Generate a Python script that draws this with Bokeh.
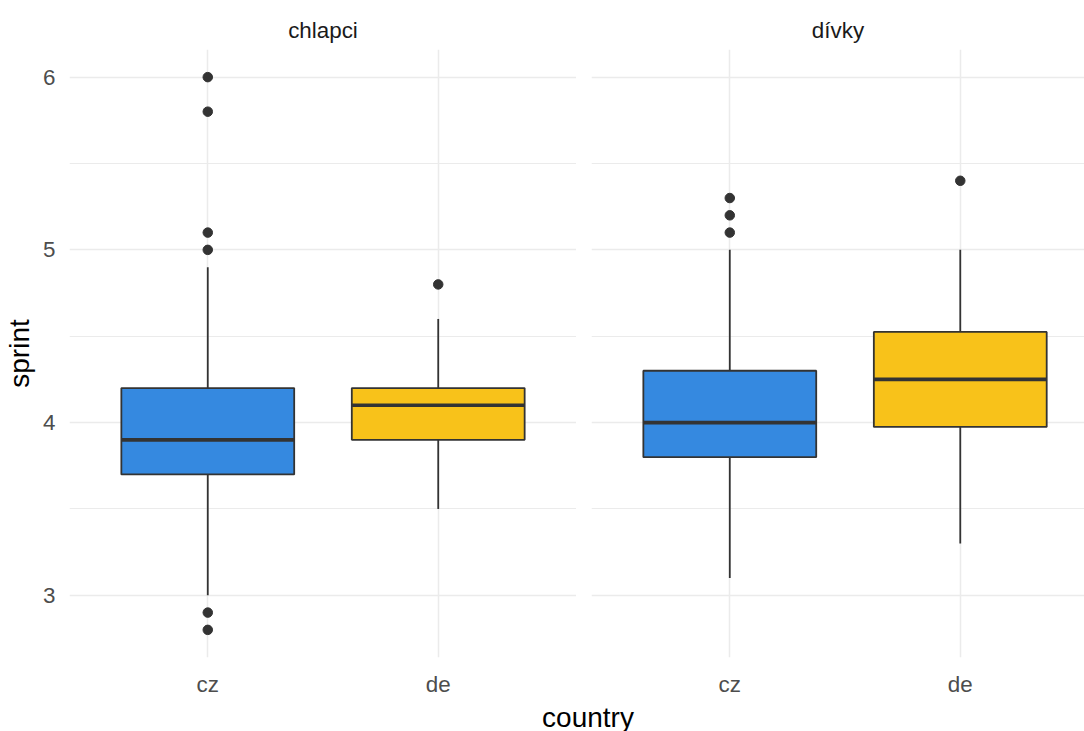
from bokeh.plotting import figure
from bokeh.models import Range1d, FixedTicker, ColumnDataSource, Div
from bokeh.layouts import row, column
from bokeh.embed import file_html
from bokeh.resources import INLINE

# ---- data ----
groups = ["chlapci", "dívky"]
countries = ["cz", "de"]
box_group = ["chlapci", "chlapci", "dívky", "dívky"]
box_country = ["cz", "de", "cz", "de"]
lower = [3.0, 3.5, 3.1, 3.3]
q1 = [3.7, 3.9, 3.8, 3.975]
median = [3.9, 4.1, 4.0, 4.25]
q3 = [4.2, 4.2, 4.3, 4.525]
upper = [4.9, 4.6, 5.0, 5.0]
out_group = ["chlapci"] * 6 + ["chlapci"] + ["dívky"] * 3 + ["dívky"]
out_country = ["cz"] * 6 + ["de"] + ["cz"] * 3 + ["de"]
out_value = [6.0, 5.8, 5.1, 5.0, 2.9, 2.8, 4.8, 5.3, 5.2, 5.1, 5.4]
y_ticks = [3, 4, 5, 6]
y_minor = [3.5, 4.5, 5.5]
fill_colors = {"cz": "#3589E0", "de": "#F8C21A"}

FONT = "Liberation Sans"
BOX_W = 0.75
H = 699


def make_panel(group, width, x_end, border_left, show_y):
    p = figure(width=width, height=H,
               x_range=Range1d(0.4, x_end), y_range=Range1d(2.64, 6.16),
               output_backend="svg", toolbar_location=None,
               min_border_left=border_left, min_border_right=0,
               min_border_top=49, min_border_bottom=39)
    p.outline_line_color = None
    p.title.text = group
    p.title.align = "center"
    p.title.text_font = FONT
    p.title.text_font_size = "22.4px"
    p.title.text_font_style = "normal"
    p.title.text_color = "#1A1A1A"
    p.title.standoff = 13

    xt = [countries.index(c) + 1 for c in countries]
    p.xaxis.ticker = FixedTicker(ticks=xt)
    p.xaxis.major_label_overrides = {t: c for t, c in zip(xt, countries)}
    p.yaxis.ticker = FixedTicker(ticks=y_ticks, minor_ticks=y_minor)
    for ax in (p.xaxis, p.yaxis):
        ax.axis_line_color = None
        ax.major_tick_line_color = None
        ax.minor_tick_line_color = None
        ax.major_tick_out = 0
        ax.major_tick_in = 0
        ax.minor_tick_out = 0
        ax.minor_tick_in = 0
        ax.major_label_text_font = FONT
        ax.major_label_text_font_size = "22.4px"
        ax.major_label_text_color = "#4D4D4D"
        ax.axis_label_text_font = FONT
        ax.axis_label_text_font_size = "28px"
        ax.axis_label_text_font_style = "normal"
        ax.axis_label_text_color = "#000000"
    p.xaxis.major_label_standoff = 14
    p.yaxis.major_label_standoff = 14
    if show_y:
        p.yaxis.axis_label = "sprint"
        p.yaxis.axis_label_standoff = 5
    else:
        p.yaxis.visible = False

    p.xgrid.ticker = FixedTicker(ticks=xt)
    p.ygrid.ticker = FixedTicker(ticks=y_ticks, minor_ticks=y_minor)
    p.xgrid.grid_line_color = "#EBEBEB"
    p.ygrid.grid_line_color = "#EBEBEB"
    p.xgrid.grid_line_width = 1.5
    p.ygrid.grid_line_width = 1.5
    p.ygrid.minor_grid_line_color = "#EBEBEB"
    p.ygrid.minor_grid_line_width = 1.2

    idx = [i for i, g in enumerate(box_group) if g == group]
    xs = [countries.index(box_country[i]) + 1 for i in idx]
    src = ColumnDataSource(dict(
        x=xs,
        x0=[x - BOX_W / 2 for x in xs],
        x1=[x + BOX_W / 2 for x in xs],
        lower=[lower[i] for i in idx],
        q1=[q1[i] for i in idx],
        med=[median[i] for i in idx],
        q3=[q3[i] for i in idx],
        upper=[upper[i] for i in idx],
        color=[fill_colors[box_country[i]] for i in idx],
    ))
    p.segment(x0="x", x1="x", y0="q3", y1="upper", source=src,
              line_color="#333333", line_width=1.8)
    p.segment(x0="x", x1="x", y0="q1", y1="lower", source=src,
              line_color="#333333", line_width=1.8)
    p.vbar(x="x", width=BOX_W, bottom="q1", top="q3", source=src,
           fill_color="color", line_color="#333333", line_width=1.8)
    p.segment(x0="x0", x1="x1", y0="med", y1="med", source=src,
              line_color="#333333", line_width=3.6)

    oidx = [i for i, g in enumerate(out_group) if g == group]
    osrc = ColumnDataSource(dict(
        x=[countries.index(out_country[i]) + 1 for i in oidx],
        y=[out_value[i] for i in oidx],
    ))
    p.scatter(x="x", y="y", source=osrc, size=9.5,
              fill_color="#333333", line_color="#333333")
    return p


p1 = make_panel(groups[0], 576, 2.6, 69, True)
p2 = make_panel(groups[1], 508, 2.539, 15, False)

title = Div(
    text=('<div style="width:1084px;box-sizing:border-box;padding-left:82px;'
          'text-align:center;font-family:\'Liberation Sans\';font-size:28px;'
          'line-height:28px;color:#000;white-space:nowrap;">country</div>'),
    width=1084, height=32)

layout = column(row(p1, p2), title)

open("out.html", "w").write(file_html(layout, INLINE))
